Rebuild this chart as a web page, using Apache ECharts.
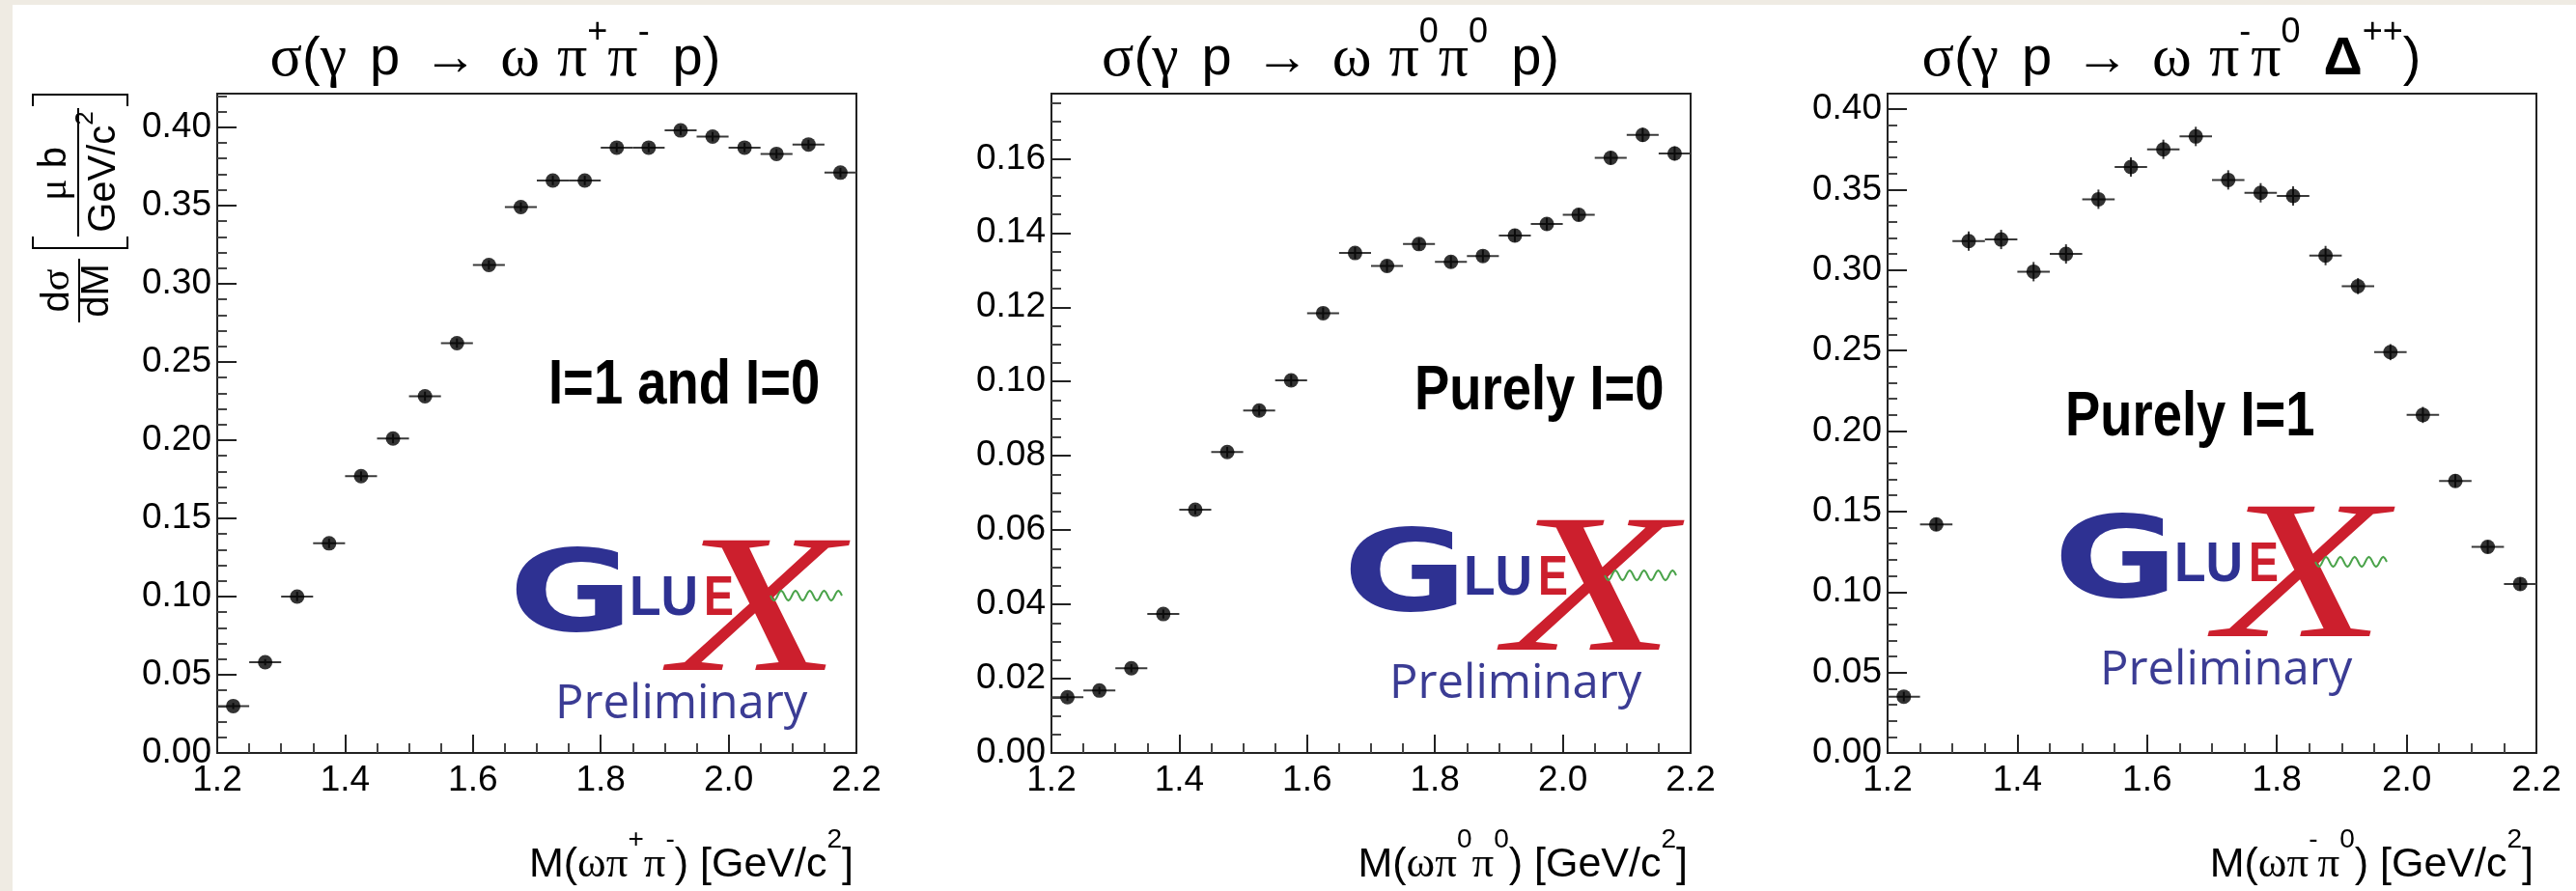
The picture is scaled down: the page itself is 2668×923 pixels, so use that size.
<!DOCTYPE html>
<html><head><meta charset="utf-8">
<script src="https://cdn.jsdelivr.net/npm/echarts@6/dist/echarts.min.js"></script>
<style>html,body{margin:0;padding:0;background:#fff}#c{width:2668px;height:923px}</style>
</head><body><div id="c"></div>
<script>
// ---------- data ----------
const massBins = [1.225,1.275,1.325,1.375,1.425,1.475,1.525,1.575,1.625,1.675,1.725,1.775,1.825,1.875,1.925,1.975,2.025,2.075,2.125,2.175];
const binHalfWidth = 0.025;
const xsecPipPim = [0.030,0.058,0.100,0.134,0.177,0.201,0.228,0.262,0.312,0.349,0.366,0.366,0.387,0.387,0.398,0.394,0.387,0.383,0.389,0.371];
const errPipPim  = [0.002,0.002,0.003,0.003,0.003,0.003,0.003,0.003,0.003,0.003,0.003,0.003,0.003,0.003,0.003,0.003,0.003,0.003,0.003,0.003];
const xsecPi0Pi0 = [0.0150,0.0168,0.0228,0.0374,0.0655,0.0810,0.0922,0.1003,0.1184,0.1346,0.1311,0.1370,0.1322,0.1338,0.1393,0.1424,0.1449,0.1602,0.1664,0.1614];
const errPi0Pi0  = [0.0010,0.0010,0.0011,0.0012,0.0013,0.0014,0.0014,0.0015,0.0015,0.0016,0.0016,0.0016,0.0016,0.0016,0.0017,0.0017,0.0017,0.0018,0.0019,0.0019];
const xsecPimPi0 = [0.035,0.142,0.318,0.319,0.299,0.310,0.344,0.364,0.375,0.383,0.356,0.348,0.346,0.309,0.290,0.249,0.210,0.169,0.128,0.105];
const errPimPi0  = [0.003,0.004,0.006,0.006,0.006,0.006,0.006,0.006,0.006,0.006,0.006,0.006,0.006,0.006,0.005,0.005,0.005,0.004,0.004,0.004];
const yMaxes = [0.4215, 0.1775, 0.4096];
const yIntervals = [0.05, 0.02, 0.05];
const yMinorSplits = [5, 4, 5];
const annotations = ['I=1 and I=0', 'Purely I=0', 'Purely I=1'];

// ---------- layout ----------
const grids = [
  {left:225, top:97, width:662, height:683},
  {left:1089, top:97, width:662, height:683},
  {left:1955, top:97, width:672, height:683}
];
const FONT = 'Liberation Sans', SERIF = 'Liberation Serif';

function xAxisCfg(i){
  return {type:'value', gridIndex:i, min:1.2, max:2.2, interval:0.2,
    axisLine:{show:true, onZero:false, lineStyle:{color:'#222', width:2}},
    axisTick:{show:true, inside:true, length:19, lineStyle:{color:'#222', width:2}},
    minorTick:{show:true, splitNumber:4, length:10, lineStyle:{color:'#444', width:2}},
    axisLabel:{margin:10, fontSize:37, fontFamily:FONT, color:'#000',
      formatter:v=>Math.abs(v/0.2-Math.round(v/0.2))<1e-6 ? v.toFixed(1) : ''},
    splitLine:{show:false}, minorSplitLine:{show:false}};
}
function yAxisCfg(i){
  const iv = yIntervals[i];
  return {type:'value', gridIndex:i, min:0, max:yMaxes[i], interval:iv,
    axisLine:{show:true, onZero:false, lineStyle:{color:'#222', width:2}},
    axisTick:{show:true, inside:true, length:20, lineStyle:{color:'#222', width:2}},
    minorTick:{show:true, splitNumber:yMinorSplits[i], length:10, lineStyle:{color:'#444', width:2}},
    axisLabel:{margin:6, fontSize:37, fontFamily:FONT, color:'#000',
      formatter:v=>Math.abs(v/iv-Math.round(v/iv))<1e-6 ? v.toFixed(2) : ''},
    splitLine:{show:false}, minorSplitLine:{show:false}};
}
function renderErr(params, api){
  const x=api.value(0), y=api.value(1), e=api.value(2);
  const a=api.coord([x-binHalfWidth,y]), b=api.coord([x+binHalfWidth,y]);
  const c=api.coord([x,y-e]), d=api.coord([x,y+e]);
  const st={stroke:'#3a3a3a', lineWidth:2};
  return {type:'group', children:[
    {type:'line', shape:{x1:a[0],y1:a[1],x2:b[0],y2:b[1]}, style:st},
    {type:'line', shape:{x1:c[0],y1:c[1],x2:d[0],y2:d[1]}, style:st}
  ]};
}
const allY = [xsecPipPim, xsecPi0Pi0, xsecPimPi0];
const allE = [errPipPim, errPi0Pi0, errPimPi0];
const series = [];
for (let i=0;i<3;i++){
  series.push({type:'custom', xAxisIndex:i, yAxisIndex:i, renderItem:renderErr,
    encode:{x:0,y:1}, data:massBins.map((m,j)=>[m, allY[i][j], allE[i][j]]), z:3, silent:true});
  series.push({type:'scatter', xAxisIndex:i, yAxisIndex:i, symbol:'circle', symbolSize:15,
    itemStyle:{color:'#000'}, data:massBins.map((m,j)=>[m, allY[i][j]]), z:4, silent:true});
}

// ---------- text helpers ----------
const titleRich = {
  s:{fontFamily:FONT, fontSize:56, lineHeight:92},
  g:{fontFamily:SERIF, fontSize:62, lineHeight:92},
  b:{fontFamily:FONT, fontSize:56, fontWeight:'bold', lineHeight:92},
  sup:{fontFamily:FONT, fontSize:36, lineHeight:36, verticalAlign:'top'},
  w:{fontFamily:FONT, fontSize:56, width:24, lineHeight:92},
  w2:{fontFamily:FONT, fontSize:56, width:18, lineHeight:92}
};
const titles = [
  {x:513, text:'{g|σ}{s|(}{g|γ}{w| }{s|p}{w| }{s|→}{w| }{g|ω}{w2| }{g|π}{sup|+}{g|π}{sup|-}{w| }{s|p)}'},
  {x:1378, text:'{g|σ}{s|(}{g|γ}{w| }{s|p}{w| }{s|→}{w| }{g|ω}{w2| }{g|π}{sup|0}{g|π}{sup|0}{w| }{s|p)}'},
  {x:2249, text:'{g|σ}{s|(}{g|γ}{w| }{s|p}{w| }{s|→}{w| }{g|ω}{w2| }{g|π}{sup|-}{g|π}{sup|0}{w| }{b|Δ}{sup|++}{s|)}'}
];
const xRich = {
  s:{fontFamily:FONT, fontSize:43, lineHeight:80},
  g:{fontFamily:SERIF, fontSize:45, lineHeight:80},
  sup:{fontFamily:FONT, fontSize:28, lineHeight:28, verticalAlign:'top'}
};
const xTitles = [
  {x:884, text:'{s|M(}{g|ωπ}{sup|+}{g|π}{sup|-}{s|) [GeV/c}{sup|2}{s|]}'},
  {x:1748, text:'{s|M(}{g|ωπ}{sup|0}{g|π}{sup|0}{s|) [GeV/c}{sup|2}{s|]}'},
  {x:2624, text:'{s|M(}{g|ωπ}{sup|-}{g|π}{sup|0}{s|) [GeV/c}{sup|2}{s|]}'}
];
const annotPos = [[568,400],[1465,406],[2139,433]];
const logoPos = [[533,568],[1397,547],[2133,533]];

const graphic = [];
graphic.push({type:'rect', shape:{x:0,y:0,width:13,height:923}, style:{fill:'#efebe3'}, z:-10});
graphic.push({type:'rect', shape:{x:0,y:0,width:2668,height:5}, style:{fill:'#efebe3'}, z:-10});
titles.forEach(t=>graphic.push({type:'text', x:t.x, y:62, style:{text:t.text, rich:titleRich, fill:'#000', align:'center', verticalAlign:'middle'}}));
xTitles.forEach(t=>graphic.push({type:'text', x:t.x, y:896, style:{text:t.text, rich:xRich, fill:'#000', align:'right', verticalAlign:'middle'}}));
annotations.forEach((a,i)=>graphic.push({type:'text', x:annotPos[i][0], y:annotPos[i][1], scaleX:0.85,
  style:{text:a, fontFamily:FONT, fontWeight:'bold', fontSize:64, fill:'#000', align:'left', verticalAlign:'middle'}}));

// y-axis title of first panel (rotated)
const rot = Math.PI/2;
const yt = {s:{fontFamily:FONT, fontSize:40}, g:{fontFamily:SERIF, fontSize:42}, sup:{fontFamily:FONT, fontSize:26, verticalAlign:'top', lineHeight:26}, s2:{fontFamily:FONT, fontSize:40, lineHeight:64}};
graphic.push({type:'text', x:60, y:301, rotation:rot, style:{text:'{s|d}{g|σ}', rich:yt, fill:'#000', align:'center', verticalAlign:'middle'}});
graphic.push({type:'text', x:101, y:301, rotation:rot, style:{text:'{s|dM}', rich:yt, fill:'#000', align:'center', verticalAlign:'middle'}});
graphic.push({type:'line', shape:{x1:82,y1:268,x2:82,y2:334}, style:{stroke:'#000', lineWidth:2}});
graphic.push({type:'text', x:57, y:180, rotation:rot, style:{text:'{g|μ}{s| b}', rich:yt, fill:'#000', align:'center', verticalAlign:'middle'}});
graphic.push({type:'text', x:108, y:178, rotation:rot, style:{text:'{s2|GeV/c}{sup|2}', rich:yt, fill:'#000', align:'center', verticalAlign:'middle'}});
graphic.push({type:'line', shape:{x1:81,y1:112,x2:81,y2:245}, style:{stroke:'#000', lineWidth:2}});
graphic.push({type:'polyline', shape:{points:[[34,245],[34,257],[132,257],[132,245]]}, style:{stroke:'#000', lineWidth:2, fill:null}});
graphic.push({type:'polyline', shape:{points:[[34,110],[34,98],[132,98],[132,110]]}, style:{stroke:'#000', lineWidth:2, fill:null}});

// GlueX logos (decoration)
function wavePoints(){
  const pts=[]; for(let k=0;k<=60;k++){ const t=k/60; pts.push([265+74*t, 49+5*Math.sin(t*Math.PI*2*5)]); } return pts;
}
logoPos.forEach(p=>{
  graphic.push({type:'group', x:p[0], y:p[1], children:[
    {type:'text', x:-6, y:54, scaleX:1.33, style:{text:'G', fontFamily:'DejaVu Sans', fontWeight:'bold', fontSize:118, fill:'#2e3192', align:'left', verticalAlign:'middle'}},
    {type:'text', x:119, y:53, scaleX:0.92, style:{text:'LU', fontFamily:FONT, fontWeight:'bold', fontSize:58, fill:'#2e3192', align:'left', verticalAlign:'middle'}},
    {type:'text', x:163, y:72, scaleX:1.4, style:{text:'X', fontFamily:SERIF, fontStyle:'italic', fontSize:205, fill:'#cc1f2d', align:'left', verticalAlign:'middle'}},
    {type:'text', x:196, y:53, scaleX:0.8, style:{text:'E', fontFamily:FONT, fontWeight:'bold', fontSize:58, fill:'#cc1f2d', align:'left', verticalAlign:'middle'}},
    {type:'polyline', shape:{points:wavePoints()}, style:{stroke:'#4aa34a', lineWidth:2, fill:null}},
    {type:'text', x:42, y:162, style:{text:'Preliminary', fontFamily:'Open Sans', fontSize:49, fill:'#3b3c94', align:'left', verticalAlign:'middle'}}
  ]});
});

const chart = echarts.init(document.getElementById('c'), null, {renderer:'canvas'});
chart.setOption({
  backgroundColor:'#fff',
  animation:false,
  grid: grids.map(g=>Object.assign({show:true, borderColor:'#222', borderWidth:2, backgroundColor:'transparent', containLabel:false, outerBoundsMode:'none'}, g)),
  xAxis:[0,1,2].map(xAxisCfg),
  yAxis:[0,1,2].map(yAxisCfg),
  series:series,
  graphic:graphic
});
</script></body></html>
